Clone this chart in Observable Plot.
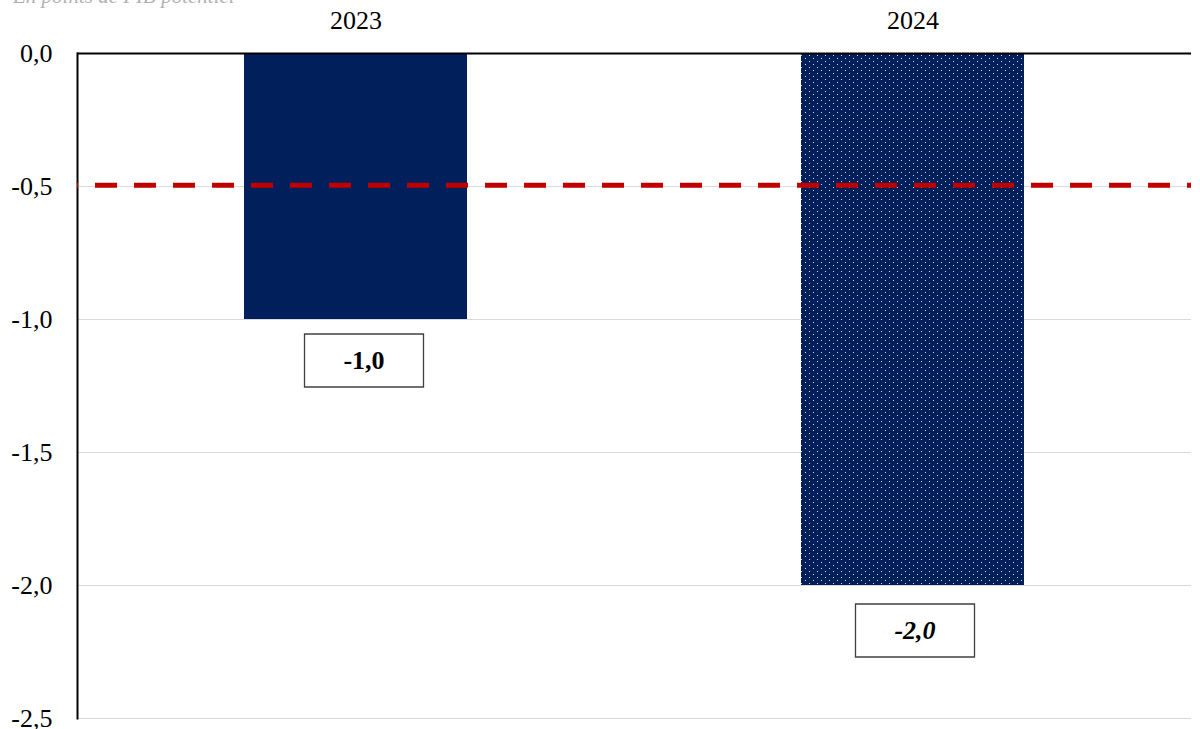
<!DOCTYPE html>
<html><head><meta charset="utf-8">
<script src="https://cdn.jsdelivr.net/npm/d3@7"></script>
<script src="https://cdn.jsdelivr.net/npm/@observablehq/plot@0.6"></script>
<style>
body{margin:0;background:#fff;overflow:hidden;width:1200px;height:729px}
#sub{position:absolute;left:13px;top:-14px;font:italic 21px "Liberation Serif";color:#b0b0b0;line-height:21px;white-space:nowrap}
#chart{position:absolute;left:0;top:0}
</style></head><body>
<div id="chart"></div><div id="sub">En points de PIB potentiel</div>
<script>
const years = ["2023", "2024"];
const values = [-1.0, -2.0];
const labels = ["-1,0", "-2,0"];
const yTicks = [0, -0.5, -1, -1.5, -2, -2.5];
const threshold = -0.495;

const data = years.map((y, i) => ({year: y, value: values[i], label: labels[i]}));
const d2023 = data.filter(d => d.year === "2023");
const d2024 = data.filter(d => d.year === "2024");
const fmt = d => d3.format(".1f")(d).replace(".", ",").replace("−", "-");
const boxSymbol = {draw(ctx) { ctx.rect(-59.5, -26.5, 119, 53); }};
const boxStyle = {symbol: boxSymbol, fill: "#fff", stroke: "#404040", strokeWidth: 1.3};
const txtStyle = {text: "label", fontSize: 26, fontWeight: "bold", fill: "#000"};

const chart = Plot.plot({
  width: 1200, height: 729,
  marginLeft: 77, marginRight: 9, marginTop: 53, marginBottom: 11,
  style: {fontFamily: "Liberation Serif", fontSize: "26px", color: "#000", background: "#fff"},
  x: {domain: years, paddingInner: 0.6, paddingOuter: 0.3, axis: null},
  y: {domain: [-2.5, 0], axis: null},
  marks: [
    Plot.gridY(yTicks, {stroke: "#d9d9d9", strokeOpacity: 1, strokeWidth: 1}),
    Plot.barY(d2023, {x: "year", y: "value", fill: "#001F5B"}),
    Plot.barY(d2024, {x: "year", y: "value", fill: "url(#dots)"}),
    Plot.ruleY([0], {stroke: "#000", strokeWidth: 2}),
    Plot.frame({anchor: "left", stroke: "#000", strokeWidth: 2}),
    Plot.ruleY([threshold], {stroke: "#C00000", strokeWidth: 5, strokeDasharray: "22,17", strokeDashoffset: -18}),
    Plot.dot(d2023, {x: "year", y: "value", dy: 41, dx: 8, ...boxStyle}),
    Plot.text(d2023, {x: "year", y: "value", dy: 41, dx: 8, ...txtStyle}),
    Plot.dot(d2024, {x: "year", y: "value", dy: 45, dx: 2, ...boxStyle}),
    Plot.text(d2024, {x: "year", y: "value", dy: 45, dx: 2, fontStyle: "italic", ...txtStyle}),
    Plot.axisX({anchor: "top", tickSize: 0, tickPadding: 25, label: null, fontSize: 26}),
    Plot.axisY(yTicks, {anchor: "left", tickSize: 0, tickPadding: 25, tickFormat: fmt, label: null, fontSize: 26})
  ]
});

const svg = d3.select(chart);
const pat = svg.insert("defs", ":first-child").append("pattern")
  .attr("id", "dots").attr("patternUnits", "userSpaceOnUse").attr("width", 8).attr("height", 6);
pat.append("rect").attr("width", 8).attr("height", 6).attr("fill", "#001F5B");
pat.append("rect").attr("x", 1).attr("y", 1).attr("width", 1).attr("height", 1).attr("fill", "#fff").attr("opacity", 0.85);
pat.append("rect").attr("x", 5).attr("y", 4).attr("width", 1).attr("height", 1).attr("fill", "#fff").attr("opacity", 0.85);
document.getElementById("chart").appendChild(chart);
</script>
</body></html>
